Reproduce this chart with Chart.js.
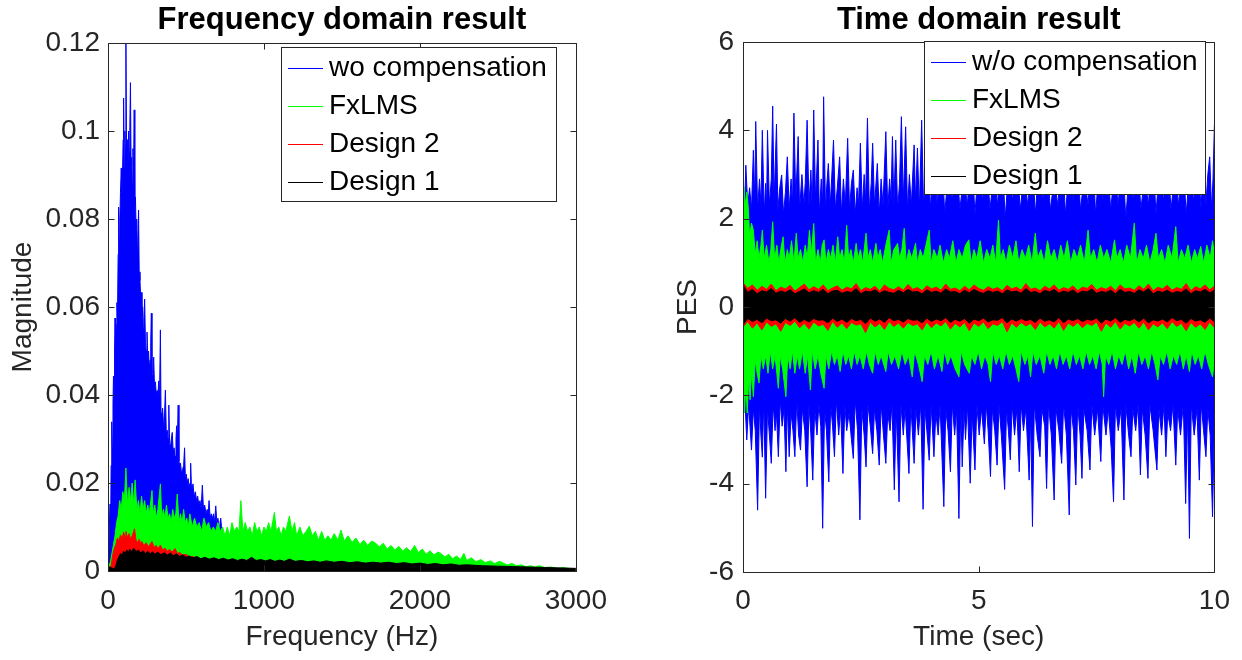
<!DOCTYPE html>
<html>
<head>
<meta charset="utf-8">
<title>Frequency / time domain result</title>
<script src="https://cdn.jsdelivr.net/npm/chart.js"></script>
<style>
  html, body { margin: 0; padding: 0; background: #fff; }
  #wrap { position: relative; width: 1242px; height: 660px; }
  #freqChart { position: absolute; left: 0; top: 0; }
  #timeChart { position: absolute; left: 620px; top: 0; }
</style>
</head>
<body>
<div id="wrap">
  <canvas id="freqChart" width="620" height="660"></canvas>
  <canvas id="timeChart" width="622" height="660"></canvas>
</div>
<script>
// series names / colours (legend order)
const freqNames = ['wo compensation', 'FxLMS', 'Design 2', 'Design 1'];
const timeNames = ['w/o compensation', 'FxLMS', 'Design 2', 'Design 1'];
const seriesColors = ['#0000ff', '#00ff00', '#ff0000', '#000000'];

// ticks
const freqTicks = [0, 1000, 2000, 3000];
const freqTickLabels = ['0', '1000', '2000', '3000'];
const magTicks = [0, 0.02, 0.04, 0.06, 0.08, 0.1, 0.12];
const magTickLabels = ['0', '0.02', '0.04', '0.06', '0.08', '0.1', '0.12'];
const timeTicks = [0, 5, 10];
const timeTickLabels = ['0', '5', '10'];
const pesTicks = [-6, -4, -2, 0, 2, 4, 6];
const pesTickLabels = ['-6', '-4', '-2', '0', '2', '4', '6'];

// spectrum: [Hz, magnitude]
const specWo = [[0,0.001],[5,0.004],[10,0.012],[13,0.0152],[17,0.010],[20,0.024],[24,0.0339],[28,0.028],[32,0.038],[35,0.0443],[39,0.040],[42,0.050],[45,0.0575],[49,0.052],[53,0.056],[57,0.061],[61,0.058],[65,0.072],[68,0.0827],[72,0.075],[76,0.080],[80,0.086],[85,0.0916],[89,0.085],[93,0.090],[97,0.098],[100,0.1075],[104,0.092],[108,0.100],[112,0.095],[115,0.1198],[119,0.094],[123,0.098],[127,0.090],[132,0.100],[136,0.095],[140,0.101],[144,0.111],[148,0.092],[152,0.094],[156,0.088],[160,0.096],[164,0.090],[168,0.1048],[172,0.083],[176,0.085],[180,0.078],[184,0.080],[188,0.074],[192,0.076],[196,0.082],[200,0.068],[205,0.066],[210,0.062],[214,0.0633],[218,0.058],[222,0.060],[226,0.055],[230,0.057],[235,0.0618],[240,0.052],[245,0.050],[250,0.0543],[255,0.048],[260,0.050],[265,0.046],[270,0.048],[274,0.052],[278,0.0586],[282,0.045],[287,0.044],[293,0.0486],[298,0.042],[304,0.043],[310,0.040],[315,0.041],[320,0.039],[325,0.0432],[330,0.038],[336,0.0548],[340,0.036],[345,0.035],[350,0.037],[355,0.034],[360,0.033],[368,0.0411],[374,0.031],[380,0.032],[385,0.030],[390,0.0377],[395,0.029],[400,0.028],[406,0.030],[412,0.0315],[418,0.027],[424,0.028],[430,0.026],[436,0.030],[440,0.033],[444,0.028],[450,0.0377],[455,0.025],[460,0.024],[465,0.0245],[472,0.022],[478,0.023],[485,0.024],[491,0.028],[496,0.021],[502,0.022],[508,0.020],[514,0.021],[520,0.019],[526,0.020],[530,0.0245],[536,0.018],[545,0.0198],[552,0.017],[560,0.018],[568,0.016],[575,0.017],[582,0.015],[590,0.016],[597,0.014],[605,0.0195],[612,0.014],[620,0.015],[628,0.013],[636,0.014],[643,0.013],[648,0.016],[655,0.012],[662,0.013],[670,0.012],[677,0.013],[684,0.011],[691,0.0148],[698,0.011],[705,0.012],[712,0.010],[718,0.011],[723,0.012],[730,0.009],[740,0.008],[750,0.006],[760,0.004],[780,0.002],[800,0.001]];

const specFxlms = [[0,0.0005],[15,0.002],[25,0.004],[35,0.006],[45,0.008],[55,0.011],[65,0.0125],[75,0.016],[85,0.014],[95,0.018],[105,0.016],[115,0.0234],[125,0.015],[135,0.019],[145,0.016],[155,0.020],[165,0.015],[174,0.0207],[185,0.014],[195,0.016],[205,0.013],[215,0.017],[225,0.014],[235,0.016],[245,0.013],[255,0.015],[265,0.013],[282,0.0183],[290,0.013],[300,0.015],[310,0.012],[320,0.014],[336,0.0198],[345,0.012],[355,0.014],[365,0.012],[375,0.015],[385,0.012],[395,0.013],[405,0.011],[415,0.014],[425,0.012],[435,0.013],[444,0.0175],[455,0.011],[465,0.013],[475,0.011],[485,0.014],[495,0.011],[505,0.012],[515,0.010],[525,0.013],[540,0.010],[555,0.012],[570,0.010],[585,0.011],[600,0.009],[615,0.012],[630,0.010],[645,0.011],[660,0.009],[675,0.010],[690,0.009],[705,0.011],[720,0.009],[735,0.010],[750,0.008],[765,0.010],[780,0.008],[795,0.011],[810,0.009],[825,0.010],[840,0.009],[852,0.016],[865,0.009],[880,0.011],[895,0.009],[910,0.010],[925,0.008],[940,0.011],[955,0.009],[970,0.010],[985,0.008],[1000,0.010],[1015,0.009],[1030,0.011],[1045,0.009],[1067,0.0133],[1080,0.009],[1095,0.010],[1110,0.008],[1125,0.010],[1140,0.009],[1163,0.0125],[1180,0.009],[1196,0.011],[1210,0.008],[1230,0.010],[1250,0.008],[1270,0.009],[1291,0.0102],[1310,0.008],[1330,0.009],[1350,0.007],[1370,0.009],[1390,0.007],[1410,0.008],[1430,0.007],[1450,0.0085],[1475,0.007],[1494,0.0093],[1515,0.0068],[1540,0.008],[1565,0.0065],[1590,0.0075],[1615,0.006],[1640,0.007],[1665,0.0058],[1690,0.0068],[1713,0.0064],[1740,0.0055],[1765,0.0063],[1790,0.005],[1815,0.0058],[1840,0.0048],[1865,0.0056],[1890,0.0045],[1915,0.0053],[1940,0.0044],[1966,0.0058],[1990,0.0042],[2015,0.005],[2040,0.0038],[2065,0.0046],[2090,0.0036],[2115,0.0043],[2134,0.004],[2160,0.0032],[2185,0.0038],[2210,0.0028],[2235,0.0034],[2260,0.0026],[2282,0.004],[2300,0.0024],[2330,0.003],[2360,0.0021],[2390,0.0026],[2420,0.0019],[2450,0.0023],[2480,0.0017],[2510,0.0022],[2533,0.0018],[2560,0.0014],[2590,0.0017],[2620,0.0012],[2650,0.0014],[2680,0.001],[2710,0.0012],[2740,0.0009],[2766,0.0012],[2800,0.0008],[2840,0.0009],[2880,0.0006],[2920,0.0008],[2960,0.0005],[3000,0.0005]];

const specDesign2 = [[0,0.0005],[20,0.0012],[30,0.0036],[40,0.0051],[50,0.006],[60,0.0075],[70,0.0068],[80,0.0082],[90,0.0074],[100,0.0088],[110,0.0078],[115,0.009],[125,0.0076],[135,0.0085],[145,0.0072],[155,0.008],[170,0.0096],[180,0.007],[190,0.0065],[200,0.0072],[210,0.0062],[217,0.0067],[230,0.0058],[245,0.0064],[260,0.0055],[282,0.0067],[295,0.0054],[310,0.0058],[320,0.005],[336,0.0059],[350,0.0048],[365,0.0052],[380,0.0045],[395,0.0049],[410,0.0043],[430,0.0051],[445,0.004],[460,0.0042],[480,0.0036],[495,0.0038],[509,0.0036],[525,0.0031],[545,0.0033],[565,0.0028],[583,0.0028],[600,0.0025],[620,0.0026],[640,0.0023],[670,0.0024],[700,0.002],[750,0.0018],[800,0.0015],[1000,0.0012],[1500,0.0009],[2000,0.0007],[2500,0.0005],[3000,0.0003]];

const specDesign1 = [[0,0.001],[20,0.0008],[40,0.0004],[50,0.0012],[60,0.0025],[70,0.0032],[80,0.004],[90,0.0036],[100,0.0045],[110,0.004],[120,0.0048],[130,0.0042],[140,0.005],[150,0.0043],[165,0.0052],[180,0.0044],[195,0.0048],[210,0.0041],[225,0.0046],[240,0.004],[255,0.0045],[270,0.0039],[285,0.0044],[300,0.0038],[320,0.0043],[340,0.0037],[360,0.0042],[380,0.0036],[400,0.0041],[420,0.0035],[440,0.0039],[460,0.0033],[480,0.0037],[500,0.0031],[520,0.0034],[545,0.003],[570,0.0033],[595,0.0028],[620,0.0031],[650,0.0027],[680,0.003],[710,0.0026],[740,0.0029],[770,0.0025],[800,0.0028],[830,0.0024],[860,0.0027],[890,0.0024],[920,0.0031],[950,0.0024],[980,0.0026],[1010,0.0023],[1040,0.0026],[1070,0.0022],[1100,0.0025],[1130,0.0022],[1163,0.0027],[1200,0.0022],[1240,0.0024],[1280,0.0021],[1320,0.0023],[1360,0.002],[1400,0.0023],[1450,0.002],[1500,0.0022],[1550,0.0019],[1600,0.0021],[1650,0.0018],[1700,0.002],[1750,0.0018],[1800,0.002],[1850,0.0017],[1900,0.0019],[1950,0.0016],[2000,0.0018],[2050,0.0015],[2100,0.0017],[2150,0.0014],[2200,0.0016],[2250,0.0013],[2300,0.0014],[2400,0.0012],[2500,0.0011],[2600,0.001],[2700,0.0009],[2800,0.0008],[2900,0.0007],[3000,0.0006]];

// PES envelopes: [sec, PES]
const woUpper = [[0,2.6],[0.03,2.1],[0.06,3.21],[0.1,2.3],[0.14,2.7],[0.18,2.2],[0.22,3.55],[0.25,2.4],[0.27,4.2],[0.31,2.2],[0.35,2.9],[0.38,2.3],[0.41,4.0],[0.45,2.1],[0.48,2.8],[0.5,2.2],[0.52,4.0],[0.56,2.3],[0.6,2.9],[0.63,4.55],[0.66,2.4],[0.71,4.14],[0.74,2.2],[0.78,2.7],[0.82,2.99],[0.86,2.1],[0.9,2.6],[0.94,3.4],[0.98,2.2],[1.02,2.9],[1.05,2.3],[1.08,4.39],[1.12,2.4],[1.17,3.86],[1.2,2.2],[1.25,3.0],[1.29,2.3],[1.32,2.8],[1.36,4.23],[1.4,2.3],[1.44,3.1],[1.47,2.2],[1.5,4.46],[1.54,2.4],[1.59,3.78],[1.62,2.1],[1.66,2.9],[1.69,2.3],[1.71,4.76],[1.75,2.2],[1.78,2.8],[1.81,3.25],[1.85,2.3],[1.88,2.9],[1.92,3.78],[1.96,2.2],[2.0,2.7],[2.05,3.4],[2.09,2.1],[2.13,2.9],[2.17,2.3],[2.22,3.82],[2.26,2.2],[2.3,2.8],[2.34,3.1],[2.38,2.1],[2.42,2.7],[2.45,2.3],[2.49,3.71],[2.53,2.2],[2.57,3.0],[2.6,2.4],[2.64,4.28],[2.68,2.2],[2.72,2.8],[2.75,3.71],[2.79,2.3],[2.85,3.25],[2.89,2.1],[2.93,2.9],[2.97,2.3],[3.03,3.97],[3.07,2.2],[3.11,2.9],[3.14,2.4],[3.17,3.86],[3.2,2.3],[3.24,3.78],[3.28,2.2],[3.32,2.8],[3.36,4.31],[3.4,2.4],[3.45,4.08],[3.49,2.2],[3.53,3.0],[3.57,2.3],[3.63,3.67],[3.66,2.4],[3.7,3.6],[3.74,2.2],[3.79,4.23],[3.83,2.3],[3.87,2.9],[3.9,2.4],[3.93,4.2],[3.97,2.2],[4.05,3.4],[4.12,2.3],[4.2,3.9],[4.28,2.1],[4.36,3.2],[4.44,2.4],[4.52,3.6],[4.6,2.2],[4.68,3.0],[4.76,2.3],[4.84,3.8],[4.92,2.1],[5.0,3.3],[5.08,2.4],[5.16,3.5],[5.24,2.2],[5.32,3.1],[5.4,2.3],[5.48,4.0],[5.56,2.0],[5.64,3.2],[5.72,2.4],[5.8,3.6],[5.88,2.2],[5.96,3.0],[6.04,2.3],[6.12,3.7],[6.2,2.1],[6.28,3.3],[6.36,2.4],[6.44,3.5],[6.52,2.2],[6.6,2.9],[6.68,2.3],[6.76,3.8],[6.84,2.1],[6.92,3.2],[7.0,2.4],[7.08,3.6],[7.16,2.2],[7.24,3.0],[7.32,2.3],[7.4,3.9],[7.48,2.1],[7.56,3.3],[7.64,2.4],[7.72,3.5],[7.8,2.2],[7.88,3.1],[7.96,2.3],[8.04,3.7],[8.12,2.0],[8.2,3.2],[8.28,2.4],[8.36,3.6],[8.44,2.2],[8.52,3.0],[8.6,2.3],[8.68,3.8],[8.76,2.1],[8.84,3.3],[8.92,2.4],[9.0,3.5],[9.08,2.2],[9.16,3.1],[9.24,2.3],[9.32,3.7],[9.4,2.1],[9.48,3.2],[9.56,2.4],[9.64,3.4],[9.72,2.2],[9.78,4.3],[9.82,2.3],[9.86,3.0],[9.9,3.4],[9.94,2.2],[9.97,2.9],[10,4.14]];

const woLower = [[0,-2.5],[0.04,-2.1],[0.08,-3.01],[0.12,-2.2],[0.18,-3.24],[0.22,-2.3],[0.26,-2.8],[0.31,-4.6],[0.35,-2.2],[0.38,-2.9],[0.41,-3.4],[0.44,-2.1],[0.48,-4.33],[0.52,-2.3],[0.56,-2.9],[0.6,-3.54],[0.64,-2.2],[0.68,-2.8],[0.71,-2.4],[0.75,-3.39],[0.79,-2.1],[0.83,-2.7],[0.87,-2.3],[0.91,-3.73],[0.94,-2.2],[0.98,-3.39],[1.02,-2.4],[1.06,-2.8],[1.1,-3.39],[1.14,-2.1],[1.18,-2.9],[1.22,-3.24],[1.26,-2.3],[1.31,-2.8],[1.36,-4.07],[1.4,-2.2],[1.44,-2.9],[1.48,-3.92],[1.52,-2.3],[1.57,-2.9],[1.61,-2.2],[1.65,-2.7],[1.69,-5.01],[1.73,-2.3],[1.77,-2.8],[1.82,-3.96],[1.86,-2.2],[1.9,-2.7],[1.94,-3.39],[1.98,-2.1],[2.03,-2.9],[2.07,-2.3],[2.12,-3.77],[2.16,-2.2],[2.2,-2.8],[2.25,-2.4],[2.3,-3.0],[2.34,-3.43],[2.38,-2.1],[2.43,-2.8],[2.48,-4.82],[2.52,-2.3],[2.57,-2.9],[2.61,-3.62],[2.65,-2.2],[2.7,-2.7],[2.75,-3.32],[2.79,-2.3],[2.84,-2.8],[2.89,-3.58],[2.93,-2.2],[2.98,-2.9],[3.03,-3.54],[3.07,-2.4],[3.12,-2.8],[3.16,-2.2],[3.21,-4.14],[3.25,-2.3],[3.31,-4.41],[3.35,-2.2],[3.4,-2.9],[3.44,-2.3],[3.52,-3.77],[3.56,-2.2],[3.63,-3.54],[3.67,-2.3],[3.72,-2.9],[3.77,-2.2],[3.82,-4.58],[3.86,-2.3],[3.9,-2.8],[3.95,-3.47],[3.99,-2.2],[4.05,-3.39],[4.09,-2.4],[4.14,-2.9],[4.18,-2.2],[4.26,-4.52],[4.3,-2.3],[4.35,-2.8],[4.4,-3.73],[4.44,-2.2],[4.49,-2.9],[4.53,-2.3],[4.58,-4.79],[4.62,-2.2],[4.65,-3.62],[4.69,-2.3],[4.72,-3.0],[4.76,-2.2],[4.82,-3.99],[4.86,-2.4],[4.92,-3.69],[4.96,-2.2],[5.01,-2.9],[5.06,-2.3],[5.12,-3.1],[5.16,-2.2],[5.2,-2.8],[5.25,-3.84],[5.29,-2.3],[5.34,-2.8],[5.39,-3.58],[5.43,-2.2],[5.48,-2.9],[5.55,-4.13],[5.59,-2.3],[5.63,-2.8],[5.67,-3.46],[5.71,-2.2],[5.76,-2.9],[5.81,-2.3],[5.86,-3.73],[5.9,-2.2],[5.95,-2.8],[6.0,-2.3],[6.07,-3.92],[6.1,-2.4],[6.14,-4.97],[6.18,-2.2],[6.24,-2.9],[6.3,-3.39],[6.34,-2.3],[6.4,-2.7],[6.44,-4.11],[6.48,-2.2],[6.54,-2.9],[6.6,-4.37],[6.64,-2.3],[6.7,-2.8],[6.76,-3.54],[6.8,-2.2],[6.86,-2.9],[6.92,-4.71],[6.96,-2.3],[7.01,-2.8],[7.06,-4.03],[7.1,-2.2],[7.15,-2.9],[7.19,-3.88],[7.23,-2.3],[7.3,-2.8],[7.36,-3.69],[7.4,-2.2],[7.46,-2.9],[7.52,-2.3],[7.59,-3.5],[7.63,-2.2],[7.7,-2.9],[7.75,-2.3],[7.81,-3.2],[7.86,-4.41],[7.9,-2.2],[7.96,-2.8],[8.02,-2.3],[8.08,-4.37],[8.12,-2.2],[8.18,-2.9],[8.23,-3.39],[8.27,-2.3],[8.33,-2.8],[8.38,-2.2],[8.43,-3.8],[8.47,-2.3],[8.53,-2.9],[8.59,-3.88],[8.63,-2.2],[8.7,-2.8],[8.78,-3.69],[8.82,-2.3],[8.88,-2.9],[8.93,-2.2],[8.97,-3.39],[9.01,-2.4],[9.07,-2.8],[9.12,-2.2],[9.18,-3.58],[9.22,-2.3],[9.28,-2.9],[9.34,-2.2],[9.39,-4.45],[9.43,-2.3],[9.47,-5.24],[9.51,-2.2],[9.57,-2.9],[9.63,-2.3],[9.68,-3.92],[9.72,-2.2],[9.77,-2.8],[9.82,-3.39],[9.86,-2.3],[9.91,-2.9],[9.96,-4.75],[10,-2.6]];

const fxUpper = [[0,2.5],[0.02,2.72],[0.05,2.3],[0.08,2.6],[0.11,2.27],[0.14,1.6],[0.18,1.9],[0.22,1.74],[0.26,1.2],[0.3,1.5],[0.34,1.1],[0.38,1.4],[0.41,1.74],[0.45,1.1],[0.5,1.4],[0.55,1.0],[0.59,1.3],[0.63,1.93],[0.67,1.1],[0.72,1.4],[0.76,1.0],[0.8,1.3],[0.85,1.59],[0.89,1.0],[0.94,1.3],[0.98,1.1],[1.03,1.5],[1.08,1.0],[1.13,1.67],[1.17,1.1],[1.22,1.3],[1.27,1.0],[1.32,1.4],[1.36,1.1],[1.41,1.74],[1.45,1.2],[1.5,1.89],[1.54,1.0],[1.59,1.3],[1.64,1.0],[1.68,1.4],[1.72,1.52],[1.76,1.0],[1.81,1.3],[1.86,1.1],[1.91,1.4],[1.96,1.0],[2.01,1.59],[2.05,1.1],[2.1,1.3],[2.15,1.0],[2.2,1.85],[2.24,1.1],[2.29,1.3],[2.34,1.0],[2.4,1.44],[2.44,1.1],[2.49,1.3],[2.54,1.0],[2.61,1.67],[2.65,1.1],[2.7,1.3],[2.75,1.0],[2.82,1.44],[2.86,1.1],[2.91,1.3],[2.96,1.0],[3.03,1.4],[3.1,1.74],[3.14,1.0],[3.2,1.3],[3.28,1.44],[3.32,1.1],[3.37,1.3],[3.42,1.78],[3.46,1.0],[3.52,1.3],[3.58,1.1],[3.66,1.44],[3.7,1.0],[3.76,1.3],[3.82,1.1],[3.88,1.4],[3.95,1.74],[3.99,1.0],[4.05,1.3],[4.12,1.1],[4.18,1.4],[4.25,1.0],[4.32,1.3],[4.38,1.1],[4.45,1.5],[4.52,1.0],[4.58,1.3],[4.65,1.1],[4.72,1.4],[4.79,1.52],[4.84,1.0],[4.9,1.3],[4.96,1.1],[5.03,1.5],[5.1,1.0],[5.17,1.3],[5.24,1.1],[5.3,1.4],[5.36,1.0],[5.42,1.97],[5.46,1.1],[5.52,1.3],[5.58,1.0],[5.65,1.4],[5.72,1.1],[5.79,1.5],[5.85,1.0],[5.92,1.3],[5.99,1.1],[6.06,1.4],[6.13,1.0],[6.2,1.67],[6.25,1.1],[6.32,1.3],[6.39,1.0],[6.46,1.5],[6.53,1.1],[6.6,1.3],[6.67,1.0],[6.74,1.4],[6.81,1.1],[6.88,1.5],[6.95,1.0],[7.02,1.3],[7.09,1.1],[7.16,1.4],[7.24,1.0],[7.32,1.74],[7.37,1.1],[7.44,1.3],[7.51,1.0],[7.58,1.4],[7.65,1.1],[7.72,1.3],[7.8,1.0],[7.88,1.52],[7.93,1.1],[8.0,1.3],[8.07,1.0],[8.14,1.4],[8.22,1.1],[8.3,1.9],[8.35,1.0],[8.42,1.3],[8.49,1.1],[8.56,1.4],[8.63,1.0],[8.7,1.3],[8.76,1.67],[8.81,1.1],[8.88,1.3],[8.95,1.0],[9.02,1.4],[9.1,1.1],[9.18,1.82],[9.23,1.0],[9.3,1.3],[9.37,1.1],[9.44,1.4],[9.51,1.0],[9.58,1.3],[9.64,1.1],[9.71,1.37],[9.77,1.0],[9.84,1.4],[9.91,1.1],[9.96,1.5],[10,1.2]];

const fxLower = [[0,-2.0],[0.03,-2.4],[0.06,-1.8],[0.09,-2.4],[0.12,-1.6],[0.15,-2.1],[0.18,-1.5],[0.22,-2.03],[0.26,-1.2],[0.3,-1.5],[0.34,-1.72],[0.38,-1.1],[0.43,-1.4],[0.48,-1.1],[0.53,-1.5],[0.58,-1.0],[0.63,-1.4],[0.68,-1.1],[0.75,-1.84],[0.79,-1.1],[0.84,-1.4],[0.91,-2.03],[0.95,-1.1],[1.0,-1.4],[1.05,-1.0],[1.1,-1.5],[1.15,-1.1],[1.2,-1.4],[1.26,-1.0],[1.32,-1.5],[1.37,-1.1],[1.43,-1.88],[1.47,-1.0],[1.53,-1.4],[1.59,-1.1],[1.65,-1.5],[1.72,-1.84],[1.76,-1.1],[1.82,-1.4],[1.88,-1.0],[1.94,-1.3],[2.0,-1.1],[2.06,-1.46],[2.12,-1.0],[2.18,-1.3],[2.24,-1.1],[2.3,-1.4],[2.36,-1.0],[2.42,-1.3],[2.48,-1.1],[2.55,-1.4],[2.62,-1.0],[2.68,-1.3],[2.75,-1.5],[2.8,-1.0],[2.87,-1.3],[2.93,-1.1],[3.03,-1.46],[3.08,-1.0],[3.15,-1.3],[3.22,-1.1],[3.3,-1.4],[3.37,-1.0],[3.44,-1.3],[3.51,-1.1],[3.59,-1.58],[3.64,-1.0],[3.72,-1.3],[3.8,-1.69],[3.85,-1.1],[3.92,-1.3],[3.99,-1.0],[4.06,-1.4],[4.14,-1.1],[4.22,-1.46],[4.27,-1.0],[4.34,-1.3],[4.41,-1.1],[4.5,-1.4],[4.58,-1.58],[4.63,-1.0],[4.7,-1.3],[4.8,-1.5],[4.85,-1.1],[4.92,-1.3],[4.99,-1.0],[5.06,-1.4],[5.13,-1.1],[5.2,-1.3],[5.25,-1.69],[5.3,-1.0],[5.37,-1.3],[5.44,-1.1],[5.51,-1.4],[5.58,-1.0],[5.65,-1.3],[5.72,-1.1],[5.79,-1.4],[5.85,-1.69],[5.9,-1.0],[5.98,-1.3],[6.04,-1.1],[6.1,-1.58],[6.15,-1.0],[6.22,-1.3],[6.3,-1.1],[6.38,-1.5],[6.44,-1.0],[6.51,-1.3],[6.58,-1.1],[6.65,-1.4],[6.72,-1.0],[6.79,-1.3],[6.86,-1.1],[6.93,-1.4],[7.0,-1.0],[7.07,-1.3],[7.14,-1.1],[7.21,-1.4],[7.28,-1.0],[7.35,-1.3],[7.42,-1.1],[7.49,-1.4],[7.56,-1.0],[7.62,-1.3],[7.65,-2.03],[7.69,-1.1],[7.76,-1.3],[7.83,-1.0],[7.9,-1.4],[7.97,-1.1],[8.04,-1.3],[8.11,-1.0],[8.18,-1.4],[8.25,-1.1],[8.32,-1.5],[8.39,-1.0],[8.46,-1.3],[8.53,-1.1],[8.6,-1.4],[8.67,-1.0],[8.74,-1.3],[8.8,-1.65],[8.85,-1.1],[8.92,-1.3],[8.99,-1.0],[9.06,-1.4],[9.13,-1.1],[9.2,-1.3],[9.27,-1.0],[9.34,-1.4],[9.4,-1.1],[9.47,-1.46],[9.52,-1.0],[9.59,-1.3],[9.66,-1.1],[9.73,-1.4],[9.8,-1.0],[9.87,-1.3],[9.96,-1.58],[10,-1.2]];

// Design bands, one value every 0.1 s from 0 to 10 s
const bandStep = 0.1;
const d2Upper = [0.55,0.42,0.50,0.38,0.47,0.40,0.52,0.37,0.45,0.41, 0.49,0.36,0.44,0.52,0.39,0.46,0.40,0.50,0.37,0.43, 0.48,0.38,0.45,0.41,0.53,0.37,0.44,0.40,0.47,0.36, 0.50,0.42,0.39,0.46,0.38,0.51,0.40,0.44,0.37,0.48, 0.41,0.45,0.38,0.52,0.40,0.43,0.37,0.47,0.39,0.50, 0.42,0.38,0.46,0.40,0.44,0.37,0.49,0.41,0.45,0.38, 0.53,0.40,0.43,0.37,0.47,0.41,0.50,0.38,0.44,0.40, 0.48,0.37,0.45,0.42,0.51,0.38,0.44,0.40,0.47,0.37, 0.50,0.41,0.43,0.38,0.48,0.40,0.52,0.37,0.45,0.41, 0.49,0.38,0.44,0.40,0.53,0.37,0.46,0.41,0.50,0.39,0.47];
const d2Lower = [-0.45,-0.33,-0.48,-0.36,-0.52,-0.34,-0.44,-0.38,-0.55,-0.35, -0.42,-0.32,-0.47,-0.37,-0.50,-0.34,-0.43,-0.39,-0.53,-0.33, -0.46,-0.36,-0.49,-0.35,-0.41,-0.38,-0.58,-0.34,-0.45,-0.37, -0.51,-0.33,-0.44,-0.36,-0.48,-0.35,-0.42,-0.38,-0.52,-0.34, -0.47,-0.36,-0.43,-0.33,-0.50,-0.37,-0.45,-0.35,-0.54,-0.36, -0.44,-0.34,-0.49,-0.38,-0.42,-0.33,-0.56,-0.36,-0.46,-0.35, -0.43,-0.37,-0.51,-0.34,-0.45,-0.38,-0.48,-0.33,-0.53,-0.36, -0.44,-0.35,-0.47,-0.37,-0.42,-0.34,-0.55,-0.36,-0.46,-0.33, -0.50,-0.37,-0.43,-0.35,-0.48,-0.34,-0.52,-0.38,-0.45,-0.36, -0.49,-0.33,-0.44,-0.37,-0.54,-0.35,-0.46,-0.38,-0.51,-0.34,-0.47];
const d1Upper = [0.50,0.33,0.40,0.30,0.37,0.34,0.42,0.31,0.36,0.33, 0.39,0.30,0.35,0.41,0.32,0.37,0.33,0.40,0.30,0.36, 0.38,0.31,0.35,0.33,0.42,0.30,0.36,0.34,0.39,0.31, 0.37,0.33,0.31,0.38,0.32,0.40,0.34,0.35,0.30,0.39, 0.33,0.36,0.31,0.41,0.34,0.35,0.30,0.38,0.32,0.40, 0.34,0.31,0.37,0.33,0.36,0.30,0.39,0.34,0.36,0.31, 0.42,0.33,0.35,0.30,0.38,0.34,0.40,0.31,0.36,0.33, 0.39,0.30,0.36,0.34,0.41,0.31,0.35,0.33,0.38,0.30, 0.40,0.33,0.35,0.31,0.39,0.34,0.42,0.30,0.36,0.33, 0.38,0.31,0.35,0.33,0.41,0.30,0.37,0.34,0.40,0.32,0.38];
const d1Lower = [-0.40,-0.26,-0.33,-0.28,-0.36,-0.25,-0.31,-0.29,-0.37,-0.26, -0.32,-0.24,-0.35,-0.28,-0.34,-0.26,-0.30,-0.29,-0.36,-0.25, -0.33,-0.27,-0.35,-0.26,-0.31,-0.28,-0.38,-0.25,-0.32,-0.27, -0.35,-0.24,-0.31,-0.28,-0.34,-0.26,-0.30,-0.29,-0.36,-0.25, -0.33,-0.27,-0.31,-0.24,-0.35,-0.28,-0.32,-0.26,-0.37,-0.27, -0.31,-0.25,-0.34,-0.29,-0.30,-0.24,-0.36,-0.27,-0.32,-0.26, -0.31,-0.28,-0.35,-0.25,-0.32,-0.29,-0.34,-0.24,-0.36,-0.27, -0.31,-0.26,-0.33,-0.28,-0.30,-0.25,-0.37,-0.27,-0.32,-0.24, -0.35,-0.28,-0.31,-0.26,-0.34,-0.25,-0.36,-0.29,-0.32,-0.27, -0.34,-0.24,-0.31,-0.28,-0.37,-0.26,-0.32,-0.29,-0.35,-0.25,-0.33];

// ---- helpers ----
const fontFamily = '"Liberation Sans", Arial, Helvetica, sans-serif';
const axisColor = '#262626';
const tickLen = 6;

const pairsToXY = pts => pts.map(p => ({ x: p[0], y: p[1] }));
const bandToXY = vals => vals.map((v, i) => ({ x: i * bandStep, y: v }));

// dense signal drawn as a filled trace down/up to zero
function area(label, color, data) {
  return {
    label: label, data: data,
    borderColor: color, backgroundColor: color,
    borderWidth: 1, pointRadius: 0, tension: 0, fill: 'origin'
  };
}

// box, inward ticks, bold title and legend, MATLAB style
const matlabFrame = {
  id: 'matlabFrame',
  afterDraw(chart, args, opts) {
    const ctx = chart.ctx;
    const a = chart.chartArea;
    const xs = chart.scales.x, ys = chart.scales.y;
    const L = Math.round(a.left) + 0.5, R = Math.round(a.right) + 0.5;
    const T = Math.round(a.top) + 0.5, B = Math.round(a.bottom) + 0.5;
    ctx.save();
    ctx.strokeStyle = axisColor;
    ctx.lineWidth = 1;
    ctx.beginPath();
    ctx.rect(L, T, R - L, B - T);
    xs.ticks.forEach(t => {
      const px = Math.round(xs.getPixelForValue(t.value)) + 0.5;
      ctx.moveTo(px, B); ctx.lineTo(px, B - tickLen);
      ctx.moveTo(px, T); ctx.lineTo(px, T + tickLen);
    });
    ys.ticks.forEach(t => {
      const py = Math.round(ys.getPixelForValue(t.value)) + 0.5;
      ctx.moveTo(L, py); ctx.lineTo(L + tickLen, py);
      ctx.moveTo(R, py); ctx.lineTo(R - tickLen, py);
    });
    ctx.stroke();

    ctx.fillStyle = '#000';
    ctx.font = 'bold 31px ' + fontFamily;
    ctx.textAlign = 'center';
    ctx.textBaseline = 'middle';
    ctx.fillText(opts.title, (a.left + a.right) / 2, opts.titleY);

    const b = opts.legendBox;
    ctx.fillStyle = '#fff';
    ctx.fillRect(b.x, b.y, b.w, b.h);
    ctx.strokeStyle = axisColor;
    ctx.strokeRect(b.x + 0.5, b.y + 0.5, b.w - 1, b.h - 1);
    ctx.font = '28px ' + fontFamily;
    ctx.textAlign = 'left';
    opts.names.forEach((name, i) => {
      const y = Math.round(b.y + 21 + i * 38) + 0.5;
      ctx.strokeStyle = opts.colors[i];
      ctx.beginPath();
      ctx.moveTo(b.x + 7, y);
      ctx.lineTo(b.x + 42, y);
      ctx.stroke();
      ctx.fillStyle = '#000';
      ctx.fillText(name, b.x + 48, y);
    });
    ctx.restore();
  }
};

function axis(cfg) {
  return {
    type: 'linear', min: cfg.min, max: cfg.max,
    afterBuildTicks: s => { s.ticks = cfg.ticks.map(v => ({ value: v })); },
    afterFit: s => { if (cfg.width) s.width = cfg.width; if (cfg.height) s.height = cfg.height; },
    grid: { display: false, drawTicks: false },
    border: { display: false },
    ticks: {
      callback: (v, i) => cfg.labels[i],
      font: { family: fontFamily, size: 28 }, color: axisColor,
      padding: cfg.pad, maxRotation: 0, autoSkip: false
    },
    title: {
      display: true, text: cfg.title, color: axisColor,
      font: { family: fontFamily, size: 28 }, padding: cfg.titlePad
    }
  };
}

function baseOptions(padding, scales, frame) {
  return {
    responsive: false, animation: false, events: [],
    layout: { padding: padding },
    scales: scales,
    plugins: { legend: { display: false }, tooltip: { enabled: false }, matlabFrame: frame }
  };
}

// first dataset is drawn last (on top), so Design 1 goes first
new Chart(document.getElementById('freqChart'), {
  type: 'line',
  data: {
    datasets: [
      area(freqNames[3], seriesColors[3], pairsToXY(specDesign1)),
      area(freqNames[2], seriesColors[2], pairsToXY(specDesign2)),
      area(freqNames[1], seriesColors[1], pairsToXY(specFxlms)),
      area(freqNames[0], seriesColors[0], pairsToXY(specWo))
    ]
  },
  options: baseOptions(
    { left: 0, right: 36, top: 43, bottom: 0 },
    {
      x: axis({ min: 0, max: 3000, ticks: freqTicks, labels: freqTickLabels, height: 89, pad: 13,
                title: 'Frequency (Hz)', titlePad: { top: 0, bottom: 6 } }),
      y: axis({ min: 0, max: 0.12, ticks: magTicks, labels: magTickLabels, width: 108, pad: 8,
                title: 'Magnitude', titlePad: { top: 6, bottom: 0 } })
    },
    { title: 'Frequency domain result', titleY: 20,
      legendBox: { x: 281, y: 47, w: 276, h: 155 }, names: freqNames, colors: seriesColors }
  ),
  plugins: [matlabFrame]
});

new Chart(document.getElementById('timeChart'), {
  type: 'line',
  data: {
    datasets: [
      area(timeNames[3], seriesColors[3], bandToXY(d1Upper)),
      area(timeNames[3], seriesColors[3], bandToXY(d1Lower)),
      area(timeNames[2], seriesColors[2], bandToXY(d2Upper)),
      area(timeNames[2], seriesColors[2], bandToXY(d2Lower)),
      area(timeNames[1], seriesColors[1], pairsToXY(fxUpper)),
      area(timeNames[1], seriesColors[1], pairsToXY(fxLower)),
      area(timeNames[0], seriesColors[0], pairsToXY(woUpper)),
      area(timeNames[0], seriesColors[0], pairsToXY(woLower))
    ]
  },
  options: baseOptions(
    { left: 0, right: 25, top: 42, bottom: 0 },
    {
      x: axis({ min: 0, max: 10, ticks: timeTicks, labels: timeTickLabels, height: 88, pad: 12,
                title: 'Time (sec)', titlePad: { top: 0, bottom: 6 } }),
      y: axis({ min: -6, max: 6, ticks: pesTicks, labels: pesTickLabels, width: 123, pad: 9,
                title: 'PES', titlePad: { top: 51, bottom: 0 } })
    },
    { title: 'Time domain result', titleY: 20,
      legendBox: { x: 304, y: 41, w: 282, h: 154 }, names: timeNames, colors: seriesColors }
  ),
  plugins: [matlabFrame]
});
</script>
</body>
</html>
